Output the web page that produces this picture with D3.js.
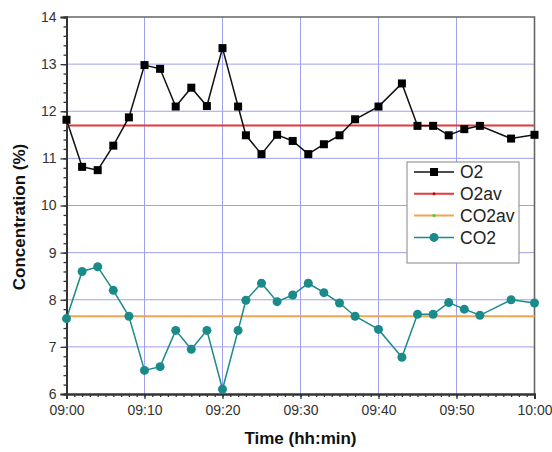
<!DOCTYPE html>
<html lang="en">
<head>
<meta charset="UTF-8">
<script src="https://d3js.org/d3.v7.min.js"></script>
<style>
  html, body { margin: 0; padding: 0; background: #fff; }
  svg { display: block; font-family: 'Liberation Sans', Arial, sans-serif; }
  .axis-title { font-size: 17px; font-weight: bold; fill: #111; }
  .legend text { font-size: 17.5px; fill: #222; }
</style>
</head>
<body>
<div id="chart"></div>
<script>
// sample times (hh:mm)
var times = ["09:00","09:02","09:04","09:06","09:08","09:10","09:12","09:14","09:16","09:18",
             "09:20","09:22","09:23","09:25","09:27","09:29","09:31","09:33","09:35","09:37",
             "09:40","09:43","09:45","09:47","09:49","09:51","09:53","09:57","10:00"];

var o2 = [11.82, 10.82, 10.75, 11.27, 11.87, 12.98, 12.9, 12.1, 12.5, 12.11,
          13.34, 12.1, 11.49, 11.09, 11.5, 11.37, 11.09, 11.3, 11.49, 11.83,
          12.1, 12.59, 11.69, 11.69, 11.49, 11.62, 11.69, 11.42, 11.5];

var co2 = [7.6, 8.6, 8.7, 8.2, 7.65, 6.5, 6.58, 7.35, 6.95, 7.35,
           6.1, 7.35, 7.99, 8.35, 7.96, 8.1, 8.35, 8.15, 7.93, 7.65,
           7.37, 6.78, 7.69, 7.69, 7.94, 7.8, 7.67, 8.0, 7.93];

var o2av = 11.7;
var co2av = 7.65;

var xTicks = ["09:00","09:10","09:20","09:30","09:40","09:50","10:00"];
var yTicks = [6, 7, 8, 9, 10, 11, 12, 13, 14];

var width = 552, height = 452;
var plotL = 66.5, plotR = 534.5, plotT = 17, plotB = 394;

var parse = d3.timeParse("%H:%M");
var fmt = d3.timeFormat("%H:%M");

var x = d3.scaleTime()
  .domain([parse("09:00"), parse("10:00")])
  .range([plotL, plotR]);

var y = d3.scaleLinear()
  .domain([6, 14])
  .range([plotB, plotT]);

var svg = d3.select("#chart").append("svg")
  .attr("width", width)
  .attr("height", height);

// grid
var gridColor = "#a0a0ee";
svg.append("g").selectAll("line")
  .data(xTicks.slice(1, -1))
  .enter().append("line")
  .attr("x1", function(d) { return x(parse(d)); })
  .attr("x2", function(d) { return x(parse(d)); })
  .attr("y1", plotT).attr("y2", plotB)
  .attr("stroke", gridColor).attr("stroke-width", 1);

svg.append("g").selectAll("line")
  .data(yTicks.slice(1, -1))
  .enter().append("line")
  .attr("x1", plotL).attr("x2", plotR)
  .attr("y1", function(d) { return y(d); })
  .attr("y2", function(d) { return y(d); })
  .attr("stroke", gridColor).attr("stroke-width", 1);

// frame top/right
svg.append("path")
  .attr("d", "M" + plotL + "," + plotT + "H" + plotR + "V" + plotB)
  .attr("fill", "none")
  .attr("stroke", "#666")
  .attr("stroke-width", 1.6);

// axes
var xMinor = d3.timeMinute.every(1).range(parse("09:00"), parse("10:01"));
var xAxisMinor = d3.axisBottom(x).tickValues(xMinor).tickSize(3).tickFormat("");
var xAxis = d3.axisBottom(x).tickValues(xTicks.map(parse)).tickSize(5).tickFormat(fmt).tickPadding(6);

var gxm = svg.append("g").attr("transform", "translate(0," + plotB + ")").call(xAxisMinor);
var gx = svg.append("g").attr("transform", "translate(0," + plotB + ")").call(xAxis);

var yMinor = d3.range(6, 14.001, 0.2);
var yAxisMinor = d3.axisLeft(y).tickValues(yMinor).tickSize(3).tickFormat("");
var yAxis = d3.axisLeft(y).tickValues(yTicks).tickSize(6).tickFormat(d3.format("d")).tickPadding(4);

var gym = svg.append("g").attr("transform", "translate(" + plotL + ",0)").call(yAxisMinor);
var gy = svg.append("g").attr("transform", "translate(" + plotL + ",0)").call(yAxis);

[gx, gxm, gy, gym].forEach(function(g) {
  g.attr("font-size", 14).attr("font-family", null);
  g.select(".domain").attr("stroke", "#333").attr("stroke-width", 2);
  g.selectAll(".tick line").attr("stroke", "#333").attr("stroke-width", 1.3);
  g.selectAll(".tick text").attr("fill", "#333");
});

// averages
svg.append("line")
  .attr("x1", plotL).attr("x2", plotR)
  .attr("y1", y(o2av)).attr("y2", y(o2av))
  .attr("stroke", "#e23a3a").attr("stroke-width", 2);

svg.append("line")
  .attr("x1", plotL).attr("x2", plotR)
  .attr("y1", y(co2av)).attr("y2", y(co2av))
  .attr("stroke", "#f2a550").attr("stroke-width", 2);

var line = d3.line()
  .x(function(d) { return x(parse(d.t)); })
  .y(function(d) { return y(d.v); });

var o2Data = times.map(function(t, i) { return {t: t, v: o2[i]}; });
var co2Data = times.map(function(t, i) { return {t: t, v: co2[i]}; });

// CO2 series
var co2Color = "#1b8a8a";
svg.append("path")
  .datum(co2Data)
  .attr("d", line)
  .attr("fill", "none")
  .attr("stroke", co2Color)
  .attr("stroke-width", 1.5);

svg.append("g").selectAll("circle")
  .data(co2Data)
  .enter().append("circle")
  .attr("cx", function(d) { return x(parse(d.t)); })
  .attr("cy", function(d) { return y(d.v); })
  .attr("r", 4.5)
  .attr("fill", co2Color);

// O2 series
svg.append("path")
  .datum(o2Data)
  .attr("d", line)
  .attr("fill", "none")
  .attr("stroke", "#111")
  .attr("stroke-width", 1.5);

var sq = 8;
svg.append("g").selectAll("rect")
  .data(o2Data)
  .enter().append("rect")
  .attr("x", function(d) { return x(parse(d.t)) - sq / 2; })
  .attr("y", function(d) { return y(d.v) - sq / 2; })
  .attr("width", sq).attr("height", sq)
  .attr("fill", "#000");

// legend
var legendItems = [
  {label: "O2", color: "#111", marker: "square"},
  {label: "O2av", color: "#e23a3a", marker: "dot", dot: "#c00"},
  {label: "CO2av", color: "#f2a550", marker: "dot", dot: "#3c3"},
  {label: "CO2", color: co2Color, marker: "circle"}
];

var lg = svg.append("g").attr("class", "legend").attr("transform", "translate(407,162)");
lg.append("rect")
  .attr("width", 112).attr("height", 101)
  .attr("fill", "#fff")
  .attr("stroke", "#999").attr("stroke-width", 1.2);

var item = lg.selectAll("g.item")
  .data(legendItems)
  .enter().append("g")
  .attr("transform", function(d, i) { return "translate(0," + (10 + i * 21.8) + ")"; });

item.append("line")
  .attr("x1", 7).attr("x2", 47)
  .attr("stroke", function(d) { return d.color; })
  .attr("stroke-width", function(d) { return d.marker == "square" || d.marker == "circle" ? 1.5 : 2; });

item.each(function(d) {
  var g = d3.select(this);
  if (d.marker == "square") {
    g.append("rect").attr("x", 27 - sq / 2).attr("y", -sq / 2).attr("width", sq).attr("height", sq).attr("fill", "#000");
  } else if (d.marker == "circle") {
    g.append("circle").attr("cx", 27).attr("r", 4.5).attr("fill", co2Color);
  } else {
    g.append("circle").attr("cx", 27).attr("r", 1.5).attr("fill", d.dot);
  }
});

item.append("text")
  .attr("x", 53)
  .attr("dy", "0.36em")
  .text(function(d) { return d.label; });

// axis titles
svg.append("text")
  .attr("class", "axis-title")
  .attr("x", (plotL + plotR) / 2)
  .attr("y", 444)
  .attr("text-anchor", "middle")
  .text("Time (hh:min)");

svg.append("text")
  .attr("class", "axis-title")
  .attr("transform", "translate(25," + 217 + ") rotate(-90)")
  .attr("text-anchor", "middle")
  .text("Concentration (%)");
</script>
</body>
</html>
